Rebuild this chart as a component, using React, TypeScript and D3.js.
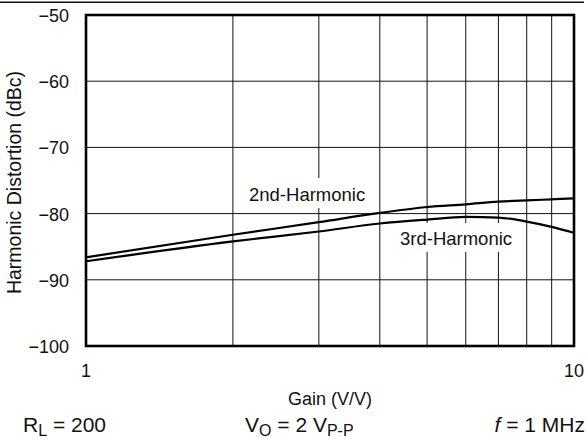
import React from "react";
import * as d3 from "d3";

const gains = [1, 2, 3, 4, 5, 6, 7, 8, 9, 10];
const hd2 = [-86.6, -83.2, -81.3, -79.9, -79.0, -78.6, -78.2, -78.0, -77.85, -77.7];
const hd3 = [-87.2, -84.2, -82.7, -81.5, -80.9, -80.5, -80.6, -81.2, -82.0, -82.9];
const yTicks = [-50, -60, -70, -80, -90, -100];
const xGrid = [2, 3, 4, 5, 6, 7, 8, 9];
const xTickLabels = [1, 10];

const W = 587;
const H = 440;
const L = 86, R = 574, T = 15, B = 346;
const FONT = "'Liberation Sans', Arial, Helvetica, sans-serif";
const INK = "#111";

export default function App() {
  const x = d3.scaleLog().domain([1, 10]).range([L, R]);
  const y = d3.scaleLinear().domain([-100, -50]).range([B, T]);
  const line = d3
    .line<number>()
    .x((_, i) => x(gains[i]))
    .y((d) => y(d))
    .curve(d3.curveMonotoneX);

  const minus = (v: number) => (v < 0 ? "\u2212" + Math.abs(v) : String(v));

  return (
    <svg
      width={W}
      height={H}
      style={{ position: "fixed", left: 0, top: 0, background: "#fff" }}
      fontFamily={FONT}
    >
      <rect x={0} y={0} width={W} height={H} fill="#fff" />
      <line x1={0} x2={584} y1={2.2} y2={2.2} stroke={INK} strokeWidth={1.4} />
      {/* grid */}
      {yTicks.map((v) => (
        <line key={"h" + v} x1={L} x2={R} y1={y(v)} y2={y(v)} stroke={INK} strokeWidth={1} />
      ))}
      {xGrid.map((g) => (
        <line key={"v" + g} x1={x(g)} x2={x(g)} y1={T} y2={B} stroke={INK} strokeWidth={1} />
      ))}
      {/* label backgrounds */}
      <rect x={246} y={178} width={124} height={30} fill="#fff" />
      <rect x={396} y={223} width={118} height={29} fill="#fff" />
      <text x={249} y={201} fontSize={18.5} fill={INK}>2nd-Harmonic</text>
      <text x={400} y={245} fontSize={18.5} fill={INK}>3rd-Harmonic</text>
      {/* curves */}
      <path d={line(hd2) || ""} fill="none" stroke="#000" strokeWidth={2.2} />
      <path d={line(hd3) || ""} fill="none" stroke="#000" strokeWidth={2.2} />
      {/* frame */}
      <rect x={L} y={T} width={R - L} height={B - T} fill="none" stroke="#000" strokeWidth={2.6} />
      {/* y ticks */}
      {yTicks.map((v) => (
        <text key={"t" + v} x={69} y={y(v) + 1} fontSize={18} textAnchor="end" dominantBaseline="central" fill={INK}>
          {minus(v)}
        </text>
      ))}
      {xTickLabels.map((g) => (
        <text key={"xt" + g} x={x(g)} y={377} fontSize={18} textAnchor="middle" fill={INK}>
          {g}
        </text>
      ))}
      <text x={330} y={405} fontSize={18} textAnchor="middle" fill={INK}>Gain (V/V)</text>
      <text
        transform={`translate(21, ${(T + B) / 2 + 2}) rotate(-90)`}
        fontSize={19.5}
        textAnchor="middle"
        fill={INK}
      >
        Harmonic Distortion (dBc)
      </text>
      {/* conditions */}
      <text x={23} y={432} fontSize={21} fill={INK}>
        R<tspan fontSize={16} dy={4}>L</tspan>
        <tspan dy={-4}> = 200</tspan>
      </text>
      <text x={245} y={432} fontSize={21} fill={INK}>
        V<tspan fontSize={16} dy={4}>O</tspan>
        <tspan dy={-4}> = 2 V</tspan>
        <tspan fontSize={16} dy={4}>P-P</tspan>
      </text>
      <text x={585} y={432} fontSize={21} textAnchor="end" fill={INK}>
        <tspan fontStyle="italic">f</tspan> = 1 MHz
      </text>
    </svg>
  );
}
